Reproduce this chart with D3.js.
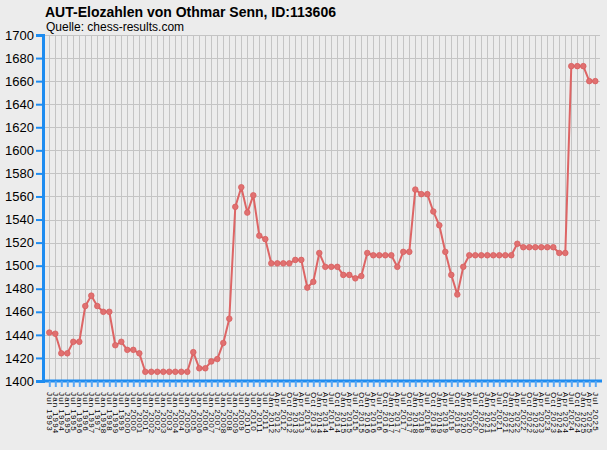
<!DOCTYPE html>
<html>
<head>
<meta charset="utf-8">
<script src="https://cdn.jsdelivr.net/npm/d3@7"></script>
<style>
  html, body { margin: 0; padding: 0; background: #ececec; }
  svg { display: block; font-family: "Liberation Sans", Arial, sans-serif; }
</style>
</head>
<body>
<svg width="607" height="450"></svg>
<script>
// rating list dates (half-yearly up to Jan 2012, quarterly after that)
var labels = [
  "Jul 1993", "Jan 1994", "Jul 1994", "Jan 1995", "Jul 1995", "Jan 1996", "Jul 1996", "Jan 1997",
  "Jul 1997", "Jan 1998", "Jul 1998", "Jan 1999", "Jul 1999", "Jan 2000", "Jul 2000", "Jan 2001",
  "Jul 2001", "Jan 2002", "Jul 2002", "Jan 2003", "Jul 2003", "Jan 2004", "Jul 2004", "Jan 2005",
  "Jul 2005", "Jan 2006", "Jul 2006", "Jan 2007", "Jul 2007", "Jan 2008", "Jul 2008", "Jan 2009",
  "Jul 2009", "Jan 2010", "Jul 2010", "Jan 2011", "Jul 2011", "Jan 2012",
  "Apr 2012", "Jul 2012", "Oct 2012",
  "Jan 2013", "Apr 2013", "Jul 2013", "Oct 2013", "Jan 2014", "Apr 2014", "Jul 2014", "Oct 2014",
  "Jan 2015", "Apr 2015", "Jul 2015", "Oct 2015", "Jan 2016", "Apr 2016", "Jul 2016", "Oct 2016",
  "Jan 2017", "Apr 2017", "Jul 2017", "Oct 2017", "Jan 2018", "Apr 2018", "Jul 2018", "Oct 2018",
  "Jan 2019", "Apr 2019", "Jul 2019", "Oct 2019", "Jan 2020", "Apr 2020", "Jul 2020", "Oct 2020",
  "Jan 2021", "Apr 2021", "Jul 2021", "Oct 2021", "Jan 2022", "Apr 2022", "Jul 2022", "Oct 2022",
  "Jan 2023", "Apr 2023", "Jul 2023", "Oct 2023", "Jan 2024", "Apr 2024", "Jul 2024", "Oct 2024",
  "Jan 2025", "Apr 2025", "Jul 2025"
];

var elo = [
  1442, 1441, 1424, 1424, 1434, 1434, 1465, 1474, 1465, 1460,
  1460, 1431, 1434, 1427, 1427, 1424, 1408, 1408, 1408, 1408,
  1408, 1408, 1408, 1408, 1425, 1411, 1411, 1417, 1419, 1433,
  1454, 1551, 1568, 1546, 1561, 1526, 1523, 1502, 1502, 1502,
  1502, 1505, 1505, 1481, 1486, 1511, 1499, 1499, 1499, 1492,
  1492, 1489, 1491, 1511, 1509, 1509, 1509, 1509, 1499, 1512,
  1512, 1566, 1562, 1562, 1547, 1535, 1512, 1492, 1475, 1499,
  1509, 1509, 1509, 1509, 1509, 1509, 1509, 1509, 1519, 1516,
  1516, 1516, 1516, 1516, 1516, 1511, 1511, 1673, 1673, 1673,
  1660, 1660
];

var yTicks = [1400, 1420, 1440, 1460, 1480, 1500, 1520, 1540, 1560, 1580, 1600, 1620, 1640, 1660, 1680, 1700];

var title = "AUT-Elozahlen von Othmar Senn, ID:113606";
var source = "Quelle: chess-results.com";

var plotL = 43, plotR = 600, plotT = 35, plotB = 381;

var svg = d3.select("svg");

var x = d3.scalePoint().domain(labels).range([49.3, 595.3]);
var y = d3.scaleLinear().domain([1400, 1700]).range([plotB, plotT]);

// grid
var grid = svg.append("g").attr("stroke", "#c4c4c4").attr("stroke-width", 1);
grid.selectAll("line.v").data(labels).enter().append("line")
  .attr("class", "v")
  .attr("x1", function(d) { return Math.round(x(d)) + 0.5; })
  .attr("x2", function(d) { return Math.round(x(d)) + 0.5; })
  .attr("y1", plotT).attr("y2", plotB);
grid.selectAll("line.h").data(yTicks).enter().append("line")
  .attr("class", "h")
  .attr("x1", plotL).attr("x2", plotR)
  .attr("y1", function(d) { return Math.round(y(d)) + 0.5; })
  .attr("y2", function(d) { return Math.round(y(d)) + 0.5; });

// series
var line = d3.line()
  .x(function(d, i) { return x(labels[i]); })
  .y(function(d) { return y(d); });

svg.append("path")
  .datum(elo)
  .attr("fill", "none")
  .attr("stroke", "#dd6565")
  .attr("stroke-width", 2)
  .attr("stroke-linejoin", "round")
  .attr("d", line);

svg.selectAll("circle.pt").data(elo).enter().append("circle")
  .attr("class", "pt")
  .attr("cx", function(d, i) { return x(labels[i]); })
  .attr("cy", function(d) { return y(d); })
  .attr("r", 2.8)
  .attr("fill", "#e07070")
  .attr("stroke", "#d86060")
  .attr("stroke-width", 0.8);

// y axis
var yAxis = svg.append("g")
  .attr("transform", "translate(" + plotL + ",0)")
  .call(d3.axisLeft(y).tickValues(yTicks).tickSize(7).tickPadding(2).tickFormat(d3.format("d")));
yAxis.select(".domain").attr("stroke", "#1e8cf0").attr("stroke-width", 3);
yAxis.selectAll(".tick line").attr("stroke", "#1e8cf0").attr("stroke-width", 2);
yAxis.selectAll(".tick text").attr("fill", "#000").style("font-size", "13px");

// x axis
var xAxis = svg.append("g")
  .attr("transform", "translate(0," + plotB + ")")
  .call(d3.axisBottom(x).tickSize(6).tickSizeOuter(0));
xAxis.select(".domain").attr("stroke", "#1e8cf0").attr("stroke-width", 3)
  .attr("d", "M" + plotL + ",0H" + (plotR + 2));
xAxis.selectAll(".tick line").attr("stroke", "#5aa8f5").attr("stroke-width", 2);
xAxis.selectAll(".tick text")
  .attr("fill", "#000")
  .style("font-size", "8px")
  .style("letter-spacing", "1.2px")
  .attr("text-anchor", "start")
  .attr("transform", "rotate(90)")
  .attr("x", 11)
  .attr("y", 0)
  .attr("dy", "0.32em");

// titles
svg.append("text")
  .attr("x", 45).attr("y", 17)
  .style("font-size", "14px").style("font-weight", "bold")
  .text(title);
svg.append("text")
  .attr("x", 46).attr("y", 31)
  .style("font-size", "12px")
  .text(source);
</script>
</body>
</html>
